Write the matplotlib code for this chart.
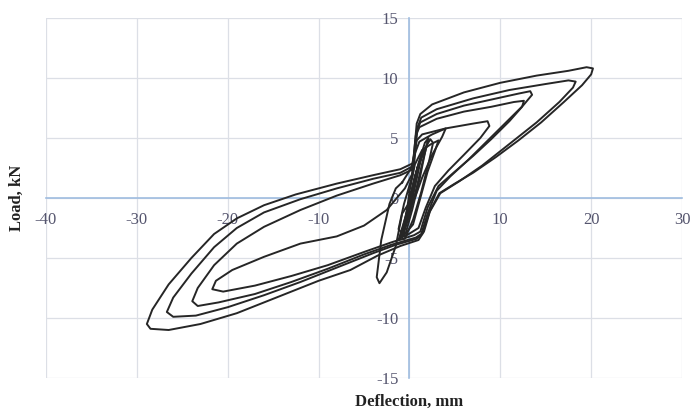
import matplotlib
matplotlib.use("Agg")
import matplotlib.pyplot as plt
from matplotlib.transforms import blended_transform_factory

# Load–deflection hysteresis record, one list pair per loading cycle
# Large cycles: positive push to the peak, back through the centre, then the negative tip and return
cyc1_x = [0.4, 0.6, 0.8, 1.2, 2.5, 6, 10, 14, 17.5, 19.5, 20.2, 20.0, 19.0, 17, 14.5, 12, 9.5, 7, 5, 3.3, 2.3, 1.6, 1.0,
          -1, -3.5, -6.5, -10, -14, -19, -23, -26.5, -28.5, -28.9, -28.3, -26.5, -24, -21.5, -19, -16, -12.5, -8, -4, -1, 0.4]
cyc1_y = [2.9, 4.5, 6.2, 7.0, 7.8, 8.8, 9.6, 10.2, 10.6, 10.9, 10.8, 10.3, 9.4, 8.0, 6.3, 4.8, 3.4, 2.1, 1.2, 0.4, -1.0, -2.8, -3.5,
          -4.0, -4.8, -6.0, -6.9, -8.1, -9.6, -10.5, -11.0, -10.9, -10.5, -9.3, -7.2, -5.0, -3.0, -1.7, -0.6, 0.3, 1.2, 1.9, 2.4, 2.9]

cyc2_x = [0.5, 0.7, 0.9, 1.3, 3, 7, 11, 15, 17.5, 18.3, 18.0, 16.5, 14, 11, 8, 5.5, 3.4, 2.2, 1.4, 0.8,
          -1.5, -4, -8, -12, -16, -20, -23.5, -26, -26.7, -26, -24, -21.5, -19, -16, -12, -8, -4, -1, 0.5]
cyc2_y = [2.7, 4.3, 5.9, 6.7, 7.4, 8.3, 9.0, 9.5, 9.8, 9.7, 9.2, 8.0, 6.3, 4.5, 2.7, 1.4, 0.4, -1.2, -3.0, -3.4,
          -3.9, -4.6, -5.8, -7.0, -8.1, -9.1, -9.8, -9.9, -9.5, -8.3, -6.3, -4.1, -2.5, -1.2, -0.1, 0.8, 1.6, 2.1, 2.7]

cyc3_x = [0.4, 0.6, 0.8, 1.2, 3, 6, 9, 12, 13.3, 13.5, 12.5, 10.5, 8.5, 6.5, 4.5, 3.0, 2.0, 1.3, 0.7,
          -2, -5, -9, -13, -17, -21, -23.3, -23.9, -23.3, -21.5, -19, -16, -12, -8, -4, -1, 0.4]
cyc3_y = [2.4, 4.0, 5.6, 6.3, 7.0, 7.7, 8.2, 8.7, 8.9, 8.6, 7.7, 6.2, 4.7, 3.2, 1.8, 0.6, -1.3, -3.0, -3.3,
          -3.9, -4.7, -5.9, -7.0, -8.0, -8.7, -9.0, -8.6, -7.5, -5.6, -3.8, -2.4, -1.0, 0.2, 1.2, 1.9, 2.4]

cyc4_x = [0.3, 0.5, 0.7, 1.1, 3, 6, 9, 11.5, 12.6, 12.4, 11, 9, 7, 5, 3.2, 2.0, 1.2, 0.5,
          -2, -5, -9, -13, -17, -20.5, -21.7, -21.3, -19.5, -16, -12, -8, -5, -2.5, -0.5, 0.3]
cyc4_y = [2.0, 3.7, 5.2, 5.9, 6.6, 7.2, 7.6, 8.0, 8.1, 7.6, 6.4, 4.9, 3.5, 2.2, 1.0, -0.8, -2.8, -3.1,
          -3.7, -4.5, -5.6, -6.5, -7.3, -7.8, -7.6, -6.9, -6.0, -4.9, -3.8, -3.2, -2.3, -1.0, 0.8, 2.0]

# Mid-size cycles: positive peaks near 9 mm and 4 mm, with the short negative excursion
cyc5_x = [0.3, 0.5, 0.8, 1.4, 4, 7, 8.6, 8.8, 7.8, 6, 4.3, 2.8, 1.8, 1.0, -0.5, -1.2, -0.6, 0.3]
cyc5_y = [1.8, 3.5, 4.8, 5.3, 5.8, 6.2, 6.4, 6.0, 5.0, 3.6, 2.3, 1.0, -0.8, -2.5, -3.2, -2.6, -0.5, 1.8]

cyc6_x = [-0.8, 0.2, 0.5, 1.1, 2.5, 4.0, 3.6, 2.5, 1.4, 0.6, -0.2, -0.8, -1.5, -2.5, -3.3, -3.6, -3.1, -2.2, -1.5, -0.8]
cyc6_y = [1.3, 2.5, 3.5, 4.7, 5.3, 5.8, 5.1, 3.6, 1.7, 0.0, -0.6, -1.3, -4.0, -6.2, -7.1, -6.6, -3.5, -0.5, 0.8, 1.3]

# Small cycles packed around the origin
cyc7_x = [-1.2, -0.4, 0.6, 1.6, 2.3, 2.6, 2.2, 1.3, 0.4, -0.5, -1.2]
cyc7_y = [-3.5, -1.5, 1.8, 4.0, 4.9, 4.6, 3.2, 0.5, -1.8, -3.4, -3.5]

cyc8_x = [-0.9, -0.2, 0.6, 1.4, 1.9, 1.6, 0.8, 0.0, -0.6, -0.9]
cyc8_y = [-3.0, -0.8, 1.7, 3.6, 4.3, 3.5, 0.9, -1.4, -2.9, -3.0]

cyc9_x = [-0.6, 0.0, 0.6, 1.2, 1.4, 1.0, 0.4, -0.3, -0.6]
cyc9_y = [-2.4, -0.4, 1.6, 3.2, 3.6, 2.6, 0.5, -1.8, -2.4]

cyc10_x = [-0.3, 0.2, 0.7, 0.9, 0.5, 0.0, -0.3]
cyc10_y = [-1.6, 0.2, 2.0, 2.6, 1.3, -0.6, -1.6]

cyc11_x = [0.0, 0.6, 1.4, 2.4, 3.2, 2.8, 2.0, 1.2, 0.4, -0.8, -0.3, 0.0]
cyc11_y = [0.5, 2.8, 4.0, 4.5, 4.8, 3.9, 2.2, 0.0, -2.2, -3.3, -1.2, 0.5]

cyc12_x = [-1.0, -0.5, 0.2, 1.0, 1.7, 2.1, 1.8, 1.1, 0.3, -0.4, -1.0]
cyc12_y = [-3.3, -2.0, 0.4, 2.9, 4.6, 5.0, 4.1, 1.5, -1.0, -2.9, -3.3]

cyc13_x = [-0.7, -0.1, 0.5, 1.0, 1.5, 1.2, 0.6, -0.1, -0.7]
cyc13_y = [-2.8, -1.0, 1.0, 2.8, 3.9, 3.0, 0.9, -1.6, -2.8]

cycles_x = [cyc1_x, cyc2_x, cyc3_x, cyc4_x, cyc5_x, cyc6_x, cyc7_x, cyc8_x, cyc9_x, cyc10_x,
            cyc11_x, cyc12_x, cyc13_x]
cycles_y = [cyc1_y, cyc2_y, cyc3_y, cyc4_y, cyc5_y, cyc6_y, cyc7_y, cyc8_y, cyc9_y, cyc10_y,
            cyc11_y, cyc12_y, cyc13_y]

x_ticks = [-40, -30, -20, -10, 0, 10, 20, 30]
y_ticks = [-15, -10, -5, 0, 5, 10, 15]

plt.rcParams["font.family"] = ["Liberation Serif", "DejaVu Serif"]

fig = plt.figure(figsize=(6.94, 4.15), dpi=100)
ax = fig.add_axes([46 / 694, 37 / 415, 636 / 694, 360 / 415])

ax.set_xlim(-40, 30)
ax.set_ylim(-15, 15)

# Light grid over the whole plot area, axes crossing at the origin
ax.set_xticks(x_ticks)
ax.set_yticks(y_ticks)
ax.grid(True, color="#dcdfe6", linewidth=0.9)
ax.set_axisbelow(True)

for side in ("top", "right"):
    ax.spines[side].set_visible(False)
ax.spines["left"].set_position(("data", 0))
ax.spines["bottom"].set_position(("data", 0))
for side in ("left", "bottom"):
    ax.spines[side].set_color("#9fbde0")
    ax.spines[side].set_linewidth(1.2)
    ax.spines[side].set_zorder(1.5)

tick_color = "#55556e"
ax.tick_params(axis="both", length=0, labelsize=12, labelcolor=tick_color)
ax.tick_params(axis="x", pad=10)
ax.tick_params(axis="y", pad=8)
ax.set_xticklabels(["" if t == 0 else str(t) for t in x_ticks])
ax.set_yticklabels([str(t) for t in y_ticks])

for xs, ys in zip(cycles_x, cycles_y):
    ax.plot(xs, ys, color="#262626", linewidth=1.4, solid_joinstyle="round", zorder=3)

# Axis titles centred on the origin lines
tx = blended_transform_factory(ax.transData, fig.transFigure)
ax.text(0, 13 / 415, "Deflection, mm", transform=tx, ha="center", va="center",
        fontsize=12, fontweight="bold", color="#222222")
ty = blended_transform_factory(fig.transFigure, ax.transData)
ax.text(17 / 694, 0, "Load, kN", transform=ty, ha="center", va="center", rotation=90,
        fontsize=12, fontweight="bold", color="#222222")

fig.savefig("out.png", dpi=100)
